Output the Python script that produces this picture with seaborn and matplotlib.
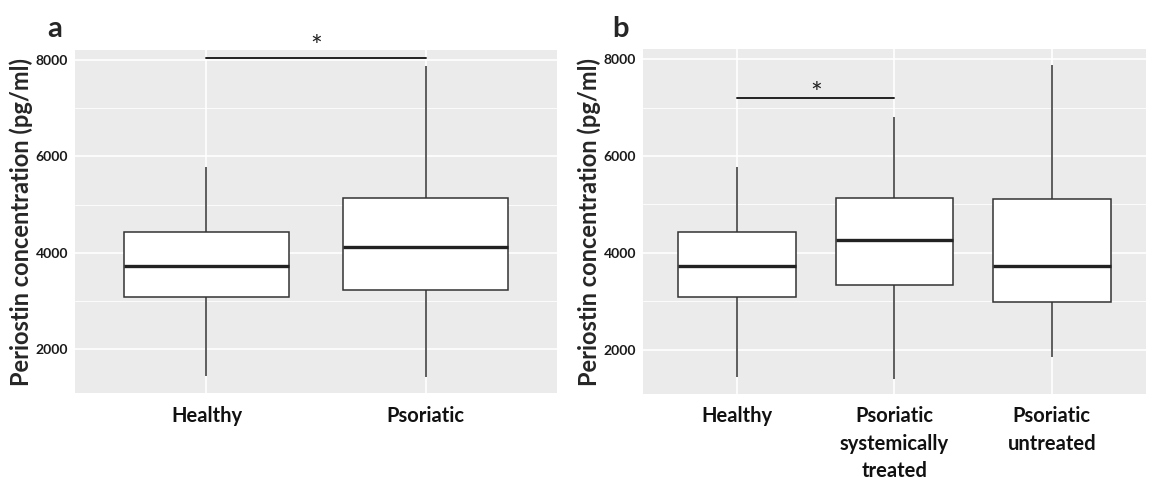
import pandas as pd
import seaborn as sns
import matplotlib.pyplot as plt
from matplotlib.ticker import FixedLocator

# five-number summaries: min, Q1, median, Q3, max (pg/ml)
groups_a = ["Healthy", "Psoriatic"]
healthy = [1440, 3085, 3722, 4440, 5780]
psoriatic = [1423, 3227, 4125, 5127, 7876]

groups_b = ["Healthy", "Psoriatic\nsystemically\ntreated", "Psoriatic\nuntreated"]
treated = [1400, 3333, 4271, 5129, 6800]
untreated = [1850, 2985, 3720, 5105, 7880]

y_ticks = [2000, 4000, 6000, 8000]
y_minor = [3000, 5000, 7000]
y_lim = (1090, 8205)

# significance bars: (group from, group to, level)
sig_a = (0, 1, 8050)
sig_b = (0, 1, 7195)

ylabel = "Periostin concentration (pg/ml)"


def long_df(groups, values):
    rows = []
    for g, v in zip(groups, values):
        for x in v:
            rows.append({"group": g, "value": x})
    return pd.DataFrame(rows)


sns.set_style("darkgrid", {"axes.facecolor": "#EBEBEB", "grid.color": "white"})
plt.rcParams["font.family"] = ["Lato", "DejaVu Sans"]


def box_panel(ax, df, order, sig, star_gap, letter, letter_x):
    sns.boxplot(data=df, x="group", y="value", order=order, ax=ax,
                color="white", linecolor="#333333", linewidth=1.1, width=0.75,
                whis=(0, 100), showcaps=False, fliersize=0,
                medianprops=dict(linewidth=2.4, color="#222222"))
    n = len(order)
    ax.set_xlim(-0.6, n - 0.4)
    ax.set_ylim(*y_lim)
    ax.set_yticks(y_ticks)
    ax.yaxis.set_minor_locator(FixedLocator(y_minor))
    ax.set_axisbelow(True)
    ax.grid(which="major", color="white", linewidth=1.2)
    ax.grid(which="minor", axis="y", color="white", linewidth=0.6)
    for s in ax.spines.values():
        s.set_visible(False)
    ax.tick_params(axis="both", which="major", length=3, width=1, color="#333333")
    ax.tick_params(axis="y", which="minor", length=0)
    ax.tick_params(axis="y", labelsize=10, pad=2)
    ax.tick_params(axis="x", labelsize=14.5, pad=6)
    for t in ax.get_yticklabels():
        t.set_fontweight("bold")
        t.set_color("#1a1a1a")
    for t in ax.get_xticklabels():
        t.set_fontweight("bold")
        t.set_color("#111111")
        t.set_linespacing(1.45)
    ax.set_xlabel("")
    ax.set_ylabel(ylabel, fontsize=17, fontweight="bold", labelpad=2)

    x0, x1, lev = sig
    ax.plot([x0, x1], [lev, lev], color="#222222", linewidth=1.4, clip_on=False)
    ax.text((x0 + x1) / 2, lev + star_gap, "*", ha="center", va="center",
            fontsize=20, color="#222222", clip_on=False)
    fig.text(letter_x, 0.94, letter, fontsize=21, fontweight="bold",
             ha="center", va="center")


fig = plt.figure(figsize=(11.49, 4.79), dpi=100)
ax_a = fig.add_axes([0.0653, 0.1795, 0.4195, 0.716])
ax_b = fig.add_axes([0.5596, 0.1775, 0.4378, 0.720])

box_panel(ax_a, long_df(groups_a, [healthy, psoriatic]), groups_a, sig_a, 200, "a", 55 / 1149)
box_panel(ax_b, long_df(groups_b, [healthy, treated, untreated]), groups_b, sig_b, 60, "b", 620 / 1149)

fig.savefig("out.png", dpi=100, facecolor="white")
